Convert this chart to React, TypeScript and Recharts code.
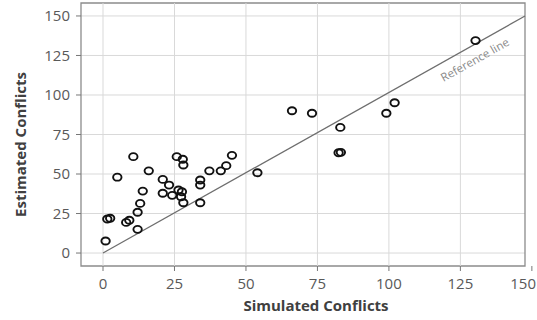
import React from 'react';
import {
  ScatterChart,
  Scatter,
  XAxis,
  YAxis,
  CartesianGrid,
  ReferenceLine,
  ReferenceArea,
  ReferenceDot,
} from 'recharts';

// Simulated vs estimated conflicts
const simulated = [
  0.9, 1.5, 2.5, 5, 8.1, 9.2, 10.6, 12.1, 12.1, 13, 13.9, 16, 20.9, 20.9, 23.1,
  24.2, 25.8, 27.9, 28.1, 26.4, 27.6, 27.3, 28.1, 34, 34, 34, 37.2, 41.2, 43.1,
  45.1, 54, 66.1, 73.1, 83, 82.4, 83.2, 99.1, 102, 130.3,
];
const estimated = [
  7.6, 21.5, 22, 48, 19.4, 20.7, 61, 15, 25.8, 31.4, 39.2, 52, 46.6, 37.8, 43,
  36.5, 61, 59.3, 55.7, 39.9, 38.8, 35.6, 31.8, 46.2, 43, 31.8, 52, 52, 55.3,
  61.8, 50.8, 90, 88.4, 79.5, 63.5, 63.7, 88.4, 95.1, 134.4,
];

const xTicks = [0, 25, 50, 75, 100, 125, 150];
const yTicks = [0, 25, 50, 75, 100, 125, 150];
const xGrid = [0, 25, 50, 75, 100, 125];
const xDomain = [-7.7, 147.6];
const yDomain = [-8.2, 158.2];
const refLineEnd = { x: 147.6, y: 150 };
const refLabelAt = { x: 130, y: 122.5 };

const points = simulated.map((x, i) => ({ x, y: estimated[i] }));

const tickStyle = { fill: '#595959', fontSize: 15, fontFamily: 'Open Sans' };
const titleStyle = {
  fill: '#404040',
  fontSize: 15,
  fontWeight: 700,
  fontFamily: 'Open Sans',
};

const OpenCircle = (props: any) => {
  const { cx, cy } = props;
  return (
    <ellipse cx={cx} cy={cy} rx={4.2} ry={3.5} fill="none" stroke="#111" strokeWidth={1.9} />
  );
};

// last label sits past the plot edge, so pull it in to keep it on the page
const XTick = (props: any) => {
  const { x, y, payload } = props;
  const last = payload.value === xTicks[xTicks.length - 1];
  return (
    <text
      x={last ? 536 : x}
      y={y}
      dy="0.71em"
      textAnchor={last ? 'end' : 'middle'}
      {...tickStyle}
    >
      {payload.value}
    </text>
  );
};

export default function App() {
  return (
    <div style={{ position: 'absolute', left: 0, top: 0, background: '#fff' }}>
      <ScatterChart
        width={537}
        height={320}
        margin={{ top: 3, right: 12, bottom: 0, left: 0 }}
      >
        <CartesianGrid vertical={false} stroke="#d9d9d9" horizontalValues={yTicks} />
        {xGrid.map((v) => (
          <ReferenceLine key={v} x={v} stroke="#d9d9d9" strokeWidth={1} />
        ))}
        <XAxis
          type="number"
          dataKey="x"
          domain={xDomain}
          allowDataOverflow
          ticks={xTicks}
          interval={0}
          axisLine={false}
          tickLine={{ stroke: '#777' }}
          tickSize={5}
          tickMargin={7}
          tick={<XTick />}
          height={54}
          label={{
            content: ({ viewBox }: any) => (
              <text
                x={viewBox.x + viewBox.width / 2 + 13}
                y={311}
                textAnchor="middle"
                {...titleStyle}
              >
                Simulated Conflicts
              </text>
            ),
          }}
        />
        <YAxis
          type="number"
          dataKey="y"
          domain={yDomain}
          allowDataOverflow
          ticks={yTicks}
          interval={0}
          axisLine={false}
          tickLine={{ stroke: '#777' }}
          tickSize={5}
          tickMargin={6}
          tick={tickStyle}
          width={81}
          label={{
            content: ({ viewBox }: any) => {
              const cx = 19.5;
              const cy = viewBox.y + viewBox.height / 2 + 10;
              return (
                <text
                  x={cx}
                  y={cy}
                  textAnchor="middle"
                  dominantBaseline="central"
                  transform={`rotate(-90, ${cx}, ${cy})`}
                  {...titleStyle}
                >
                  Estimated Conflicts
                </text>
              );
            },
          }}
        />
        <ReferenceArea
          x1={xDomain[0]}
          x2={xDomain[1]}
          y1={yDomain[0]}
          y2={yDomain[1]}
          fill="none"
          fillOpacity={0}
          stroke="#8c8c8c"
          strokeWidth={1.3}
        />
        <ReferenceLine
          segment={[{ x: 0, y: 0 }, refLineEnd]}
          stroke="#6e6e6e"
          strokeWidth={1.3}
        />
        <ReferenceDot
          x={refLabelAt.x}
          y={refLabelAt.y}
          r={0}
          fill="none"
          stroke="none"
          label={{
            content: ({ viewBox }: any) => {
              const cx = viewBox.x + (viewBox.width || 0) / 2;
              const cy = viewBox.y + (viewBox.height || 0) / 2;
              return (
                <text
                  x={cx}
                  y={cy}
                  textAnchor="middle"
                  dominantBaseline="central"
                  transform={`rotate(-29.3, ${cx}, ${cy})`}
                  fill="#8a8a8a"
                  fontSize={11.5}
                  fontFamily="Open Sans"
                >
                  Reference line
                </text>
              );
            },
          }}
        />
        <Scatter data={points} shape={<OpenCircle />} isAnimationActive={false} />
      </ScatterChart>
    </div>
  );
}
